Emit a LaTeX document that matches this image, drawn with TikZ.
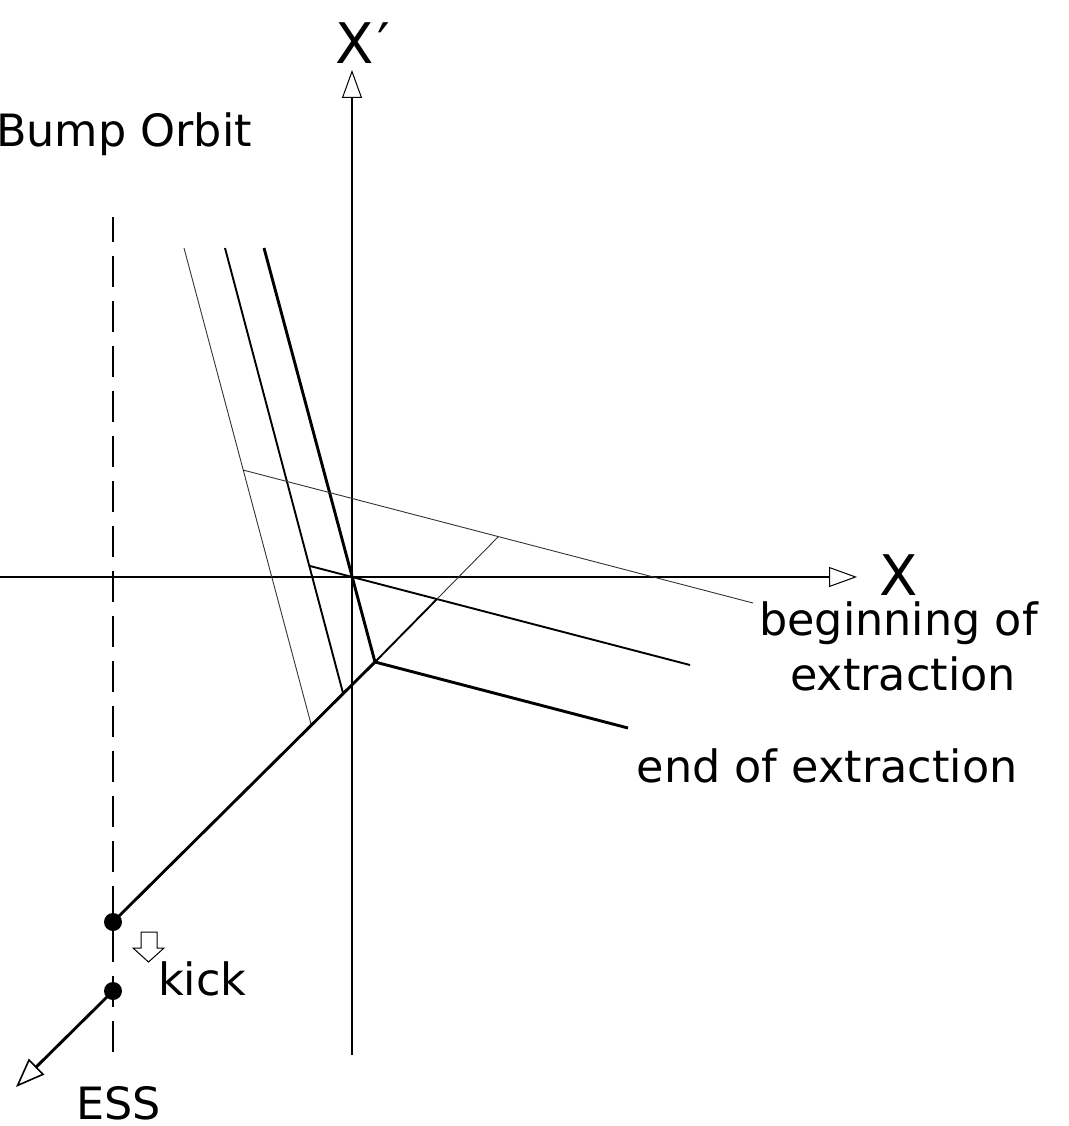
\documentclass[tikz,border=0pt]{standalone}
\usepackage{fontspec}
\setmainfont{DejaVu Sans}
\usetikzlibrary{arrows.meta}

\tikzset{
  axisline/.style={line width=1.2pt, -{Triangle[open, length=28pt, width=20pt, line width=1pt]}},
  guide/.style={line width=1.1pt, dash pattern=on 31pt off 14pt, dash phase=6pt},
  thinsep/.style={line width=0.9pt, black!80},
  midsep/.style={line width=1.9pt},
  thicksep/.style={line width=2.9pt},
  beamdot/.style={circle, fill=black, inner sep=0pt, minimum size=18pt},
  label/.style={inner sep=0pt, anchor=base west, font=\fontsize{44.5}{53}\selectfont},
  axislabel/.style={inner sep=0pt, anchor=base west, font=\fontsize{56}{66}\selectfont},
  kickarrow/.style={line width=1pt, fill=white}
}

\begin{document}
\begin{tikzpicture}[x=1pt, y=-1pt]
  \useasboundingbox (0,0) rectangle (1068,1126);

  % phase-space axes
  \coordinate (O) at (352,577);
  \coordinate (xl) at (0,577);
  \coordinate (xr) at (857,577);
  \coordinate (yb) at (352,1055);
  \coordinate (yt) at (352,70);
  \draw[axisline] (xl) -- (xr);
  \draw[axisline] (yb) -- (yt);

  % septum position (bump orbit)
  \coordinate (sepTop) at (113,217);
  \coordinate (sepBot) at (113,1055);
  \draw[guide] (sepTop) -- (sepBot);

  % separatrix arms, pointing up
  \coordinate (a1) at (184,248);
  \coordinate (a2) at (225,248);
  \coordinate (a3) at (264,248);
  % separatrix arms, pointing right
  \coordinate (h1) at (243,470);
  \coordinate (h1e) at (753,603);
  \coordinate (h2) at (310,566);
  \coordinate (h2e) at (690,665);
  \coordinate (h3) at (375,662);
  \coordinate (h3e) at (628,728);
  % outgoing arm
  \coordinate (d1) at (498,537);
  \coordinate (d2) at (437,599);
  \coordinate (b1) at (311,724);
  \coordinate (b2) at (343,693);

  \draw[thinsep] (a1) -- (b1);
  \draw[midsep] (a2) -- (b2);
  \draw[thicksep] (a3) -- (h3);

  \draw[thinsep] (h1) -- (h1e);
  \draw[midsep] (h2) -- (h2e);
  \draw[thicksep] (h3) -- (h3e);

  \draw[thinsep] (d1) -- (d2);
  \draw[midsep] (d2) -- (h3);

  % beam at the septum, before and after the kick
  \node[beamdot] (p1) at (113,922) {};
  \node[beamdot] (p2) at (113,991) {};
  \coordinate (ess) at (16,1087);
  \draw[thicksep] (h3) -- (p1.center);
  \draw[line width=2.9pt, -{Triangle[open, length=29pt, width=22pt, line width=1.6pt]}] (p2.center) -- (ess);

  % kick marker
  \draw[kickarrow] (141,932) -- (157,932) -- (157,948) -- (164,948) -- (148.5,962)
     -- (133,948) -- (141,948) -- cycle;

  % labels
  \node[axislabel] (lxp) at (335,64) {X\kern4pt′};
  \node[axislabel] (lx) at (879,595) {X};
  \node[label] (lbump) at (-4,147) {Bump Orbit};
  \node[label] (lbeg1) at (759,635) {beginning of};
  \node[label] (lbeg2) at (790,690) {extraction};
  \node[label] (lend) at (636.5,782) {end of extraction};
  \node[label] (lkick) at (158,995) {kick};
  \node[label] (less) at (76,1119) {ESS};
\end{tikzpicture}
\end{document}
